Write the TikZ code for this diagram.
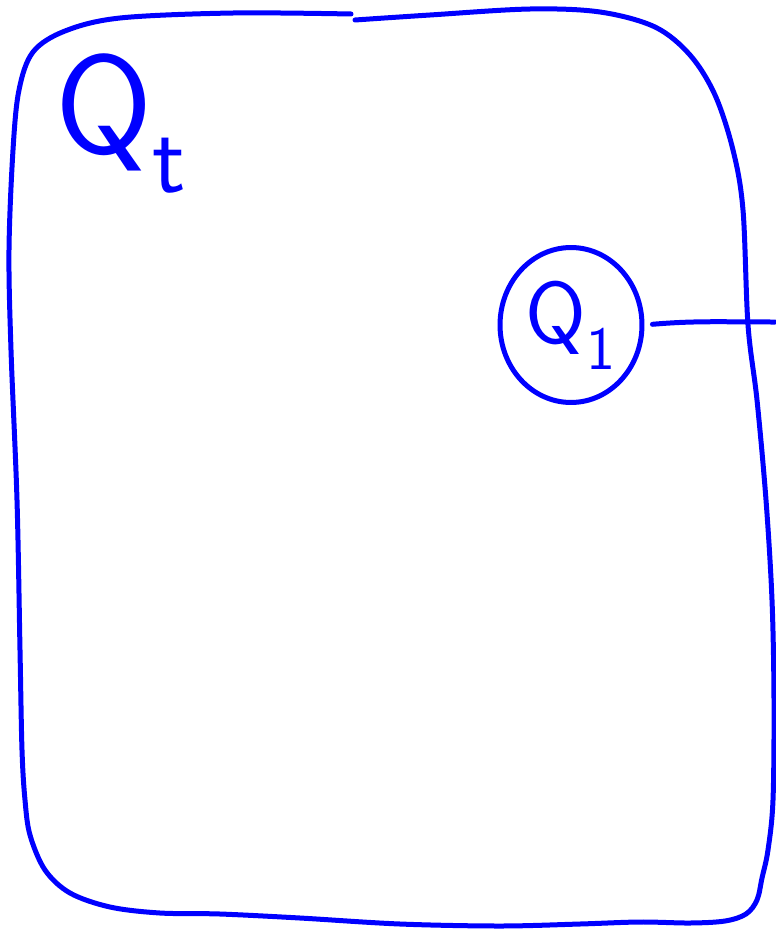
\documentclass[tikz,border=0pt]{standalone}
\usepackage{fontspec}
\usepackage{xcolor}
\usepackage{tikz}
\usetikzlibrary{shapes.geometric, positioning}
\definecolor{penblue}{RGB}{0,0,255}
\tikzset{
  ink/.style={draw=penblue, line width=0.1cm, line cap=round, line join=round},
  biglabel/.style={text=penblue, inner sep=0pt,
    font=\sffamily\fontsize{80}{80}\selectfont},
  qcircle/.style={ellipse, draw=penblue, line width=0.1cm, fill=white,
    minimum width=2.84cm, minimum height=3.1cm, inner sep=0pt,
    text=penblue, font=\sffamily\fontsize{50}{50}\selectfont}
}

\begin{document}
\begin{tikzpicture}[x=0.02cm, y=-0.02cm]
  \useasboundingbox (0,0) rectangle (775,933);

  % Outer box Q_t (freehand, gap at the top)
  \draw[ink] plot[smooth, tension=0.55] coordinates {
    (355,20) (430,15) (530,9) (600,12) (655,27) (690,55) (715,95)
    (733,150) (743,210) (748,325) (757,400) (766,500) (772,600)
    (774,700) (773,800) (768,850) (762,878) (757,900) (746,914)
    (725,921) (690,923) (640,922) (580,924) (500,926) (400,924)
    (300,918) (220,914) (160,913) (110,907) (70,893) (45,870)
    (30,835) (25,800) (22,750) (20,650) (17,500) (11,350) (9,250)
    (13,150) (19,90) (33,52) (65,31) (120,18) (233,13) (351,14)};
  \node[biglabel, anchor=base west] (qt) at (55,153) {Q\textsubscript{t}};

  % Inner Q_1 and its wire to the rim
  \node[qcircle] (qone) at (571,325) {Q\textsubscript{1}};
  \coordinate (rimend) at (775,322);
  \draw[ink, shorten <=0.16cm] (qone.east) to[out=5, in=180] (rimend);
\end{tikzpicture}
\end{document}
